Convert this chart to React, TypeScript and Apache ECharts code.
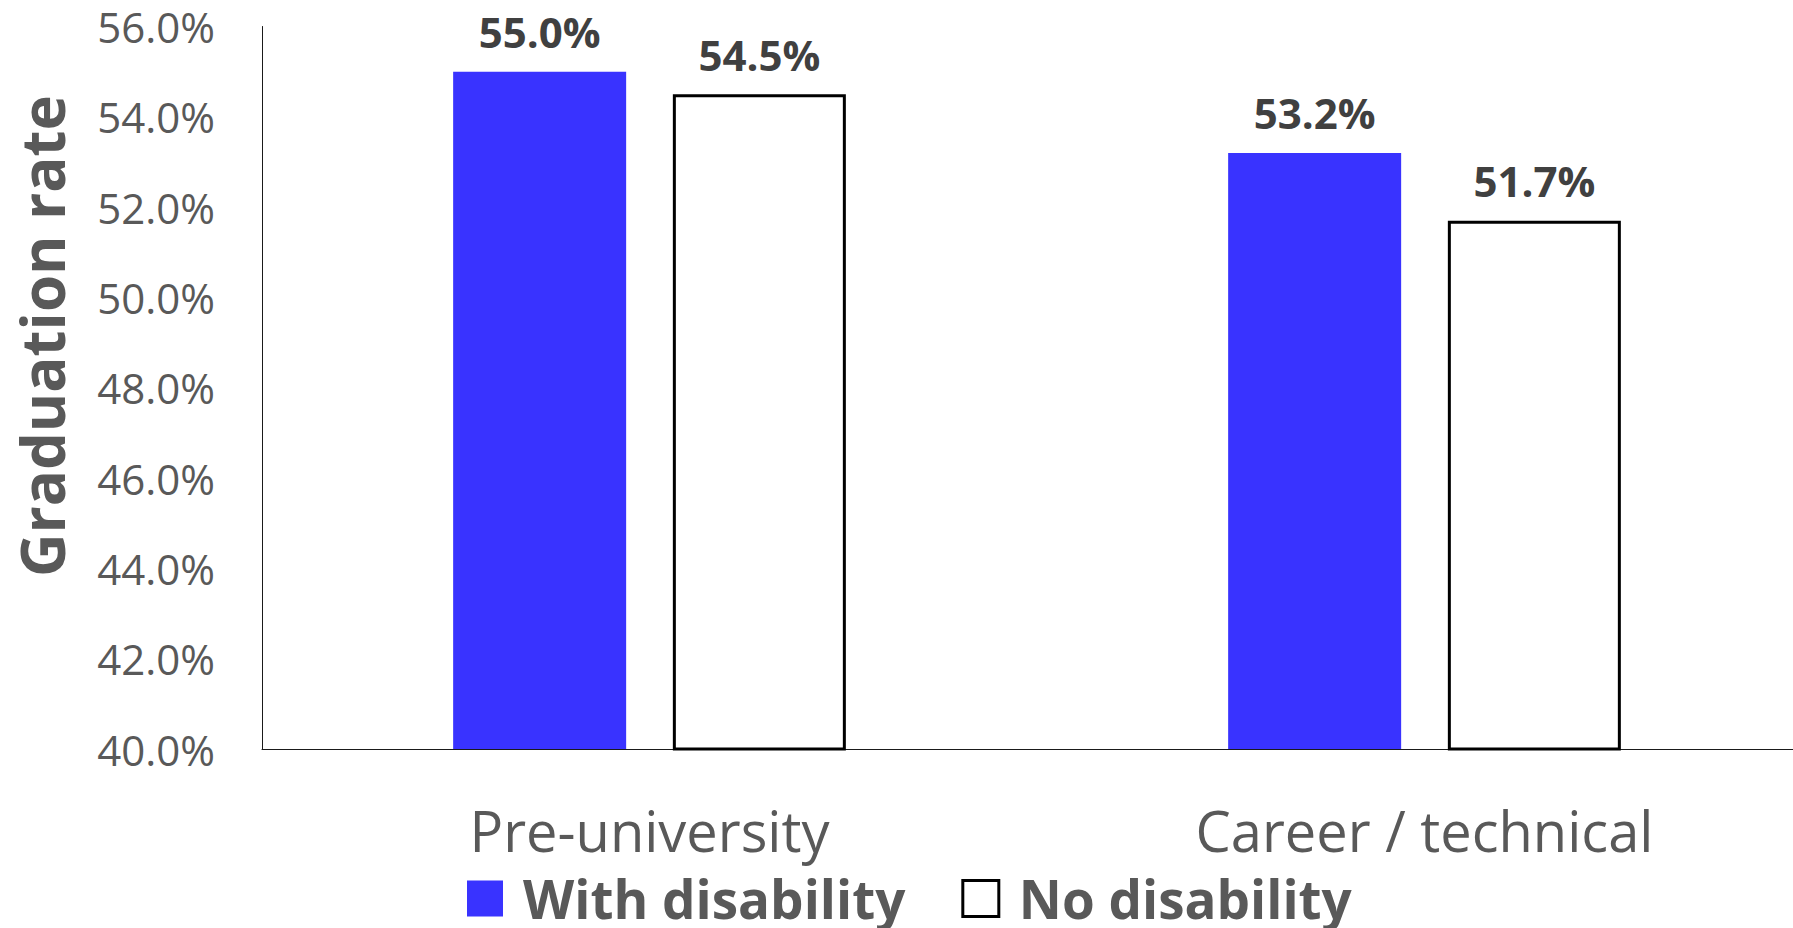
import React, { useEffect, useRef } from "react";
import * as echarts from "echarts";

const categories = ["Pre-university", "Career / technical"];
const withDisability = [55.0, 53.2];
const noDisability = [54.5, 51.7];
const yMin = 40;
const yMax = 56;
const yStep = 2;

const FONT = "'Open Sans', 'Noto Sans', sans-serif";

export default function App() {
  const ref = useRef<HTMLDivElement>(null);
  useEffect(() => {
    if (!ref.current) return;
    const chart = echarts.init(ref.current, null, { renderer: "svg" });
    const valueLabel = {
      show: true,
      position: "top",
      distance: 19,
      fontFamily: FONT,
      fontSize: 42,
      lineHeight: 42,
      fontWeight: "bold",
      color: "#404040",
      formatter: (p: any) => `${Number(p.value).toFixed(1)}%`,
    };
    chart.setOption({
      animation: false,
      backgroundColor: "#ffffff",
      textStyle: { fontFamily: FONT },
      grid: {
        left: 262,
        top: 26.5,
        bottom: 179,
        width: 1550,
        containLabel: false,
        outerBoundsMode: "none",
      },
      legend: {
        left: 467,
        top: 872,
        padding: 0,
        itemGap: 56,
        itemWidth: 36,
        itemHeight: 36,
        icon: "rect",
        textStyle: {
          fontFamily: FONT,
          fontSize: 53,
          lineHeight: 53,
          fontWeight: "bold",
          color: "#595959",
          padding: [0, 0, 0, 15],
        },
        data: [
          { name: "With disability" },
          { name: "No disability", itemStyle: { borderWidth: 3, borderColor: "#000000", color: "#ffffff" } },
        ],
      },
      xAxis: {
        type: "category",
        data: categories,
        axisLine: { show: true, lineStyle: { color: "#1a1a1a", width: 1 } },
        axisTick: { show: false },
        axisLabel: {
          margin: 53,
          fontFamily: FONT,
          fontSize: 56,
          lineHeight: 56,
          color: "#595959",
        },
        splitLine: { show: false },
      },
      yAxis: {
        type: "value",
        min: yMin,
        max: yMax,
        interval: yStep,
        axisLine: { show: true, lineStyle: { color: "#1a1a1a", width: 1 } },
        axisTick: { show: false },
        splitLine: { show: false },
        axisLabel: {
          margin: 47,
          fontFamily: FONT,
          fontSize: 42,
          lineHeight: 42,
          color: "#595959",
          formatter: (v: number) => `${v.toFixed(1)}%`,
        },
      },
      graphic: [
        {
          type: "text",
          x: 42,
          y: 336,
          rotation: Math.PI / 2,
          style: {
            text: "Graduation rate",
            fontFamily: FONT,
            fontSize: 60,
            fontWeight: "bold",
            fill: "#595959",
            textAlign: "center",
            textVerticalAlign: "middle",
          },
        },
      ],
      series: [
        {
          name: "With disability",
          type: "bar",
          data: withDisability,
          barWidth: 173,
          barGap: "27%",
          itemStyle: { color: "#3933FF" },
          label: valueLabel,
        },
        {
          name: "No disability",
          type: "bar",
          data: noDisability,
          barWidth: 173,
          barGap: "27%",
          itemStyle: { color: "#ffffff", borderColor: "#000000", borderWidth: 3 },
          label: valueLabel,
        },
      ],
    });
    return () => chart.dispose();
  }, []);
  return (
    <div
      ref={ref}
      style={{ position: "fixed", left: 0, top: 0, width: 1793, height: 928 }}
    />
  );
}
